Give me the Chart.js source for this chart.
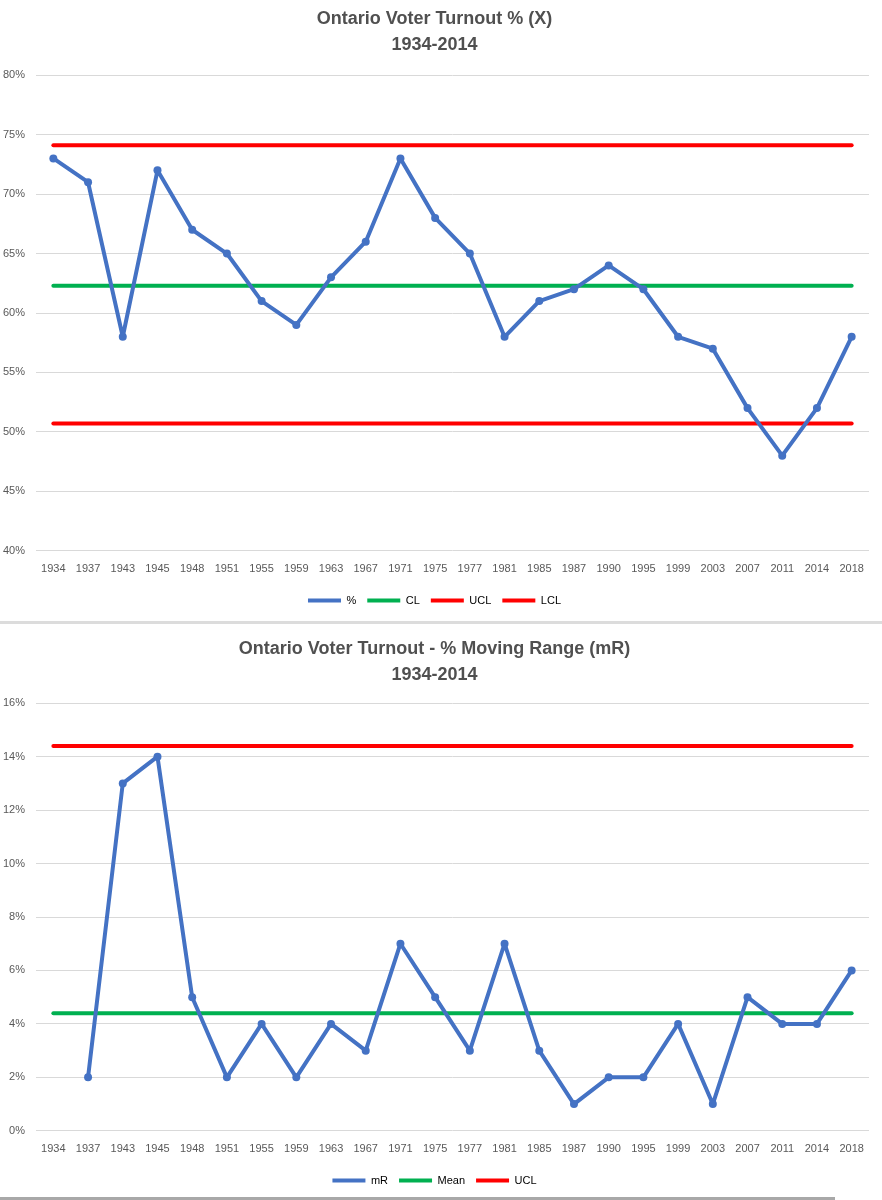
<!DOCTYPE html>
<html>
<head>
<meta charset="utf-8">
<script src="https://cdn.jsdelivr.net/npm/chart.js@4.4.1/dist/chart.umd.min.js"></script>
<style>
  body { margin: 0; background: #fff; width: 882px; height: 1200px; position: relative; overflow: hidden; }
  .box { position: absolute; left: 0; width: 882px; }
  #topBox { top: 0; height: 620px; }
  #botBox { top: 630px; height: 570px; }
  .sep1 { position: absolute; left: 0; top: 621px; width: 882px; height: 3px; background: #dcdcdc; }
  .sep2 { position: absolute; left: 0; top: 1197px; width: 835px; height: 3px; background: #a8a8a8; }
</style>
</head>
<body>
<div class="box" id="topBox"><canvas id="turnoutChart"></canvas></div>
<div class="sep1"></div>
<div class="box" id="botBox"><canvas id="rangeChart"></canvas></div>
<div class="sep2"></div>
<script>
const years = ['1934', '1937', '1943', '1945', '1948', '1951', '1955', '1959', '1963', '1967', '1971', '1975',
    '1977', '1981', '1985', '1987', '1990', '1995', '1999', '2003', '2007', '2011', '2014', '2018'];

// turnout %
const turnout = [73, 71, 58, 72, 67, 65, 61, 59, 63, 66, 73, 68, 65, 58, 61, 62, 64, 62, 58, 57, 52, 48, 52, 58];
const turnoutCL = [62.3, 62.3, 62.3, 62.3, 62.3, 62.3, 62.3, 62.3, 62.3, 62.3, 62.3, 62.3,
    62.3, 62.3, 62.3, 62.3, 62.3, 62.3, 62.3, 62.3, 62.3, 62.3, 62.3, 62.3];
const turnoutUCL = [74.1, 74.1, 74.1, 74.1, 74.1, 74.1, 74.1, 74.1, 74.1, 74.1, 74.1, 74.1,
    74.1, 74.1, 74.1, 74.1, 74.1, 74.1, 74.1, 74.1, 74.1, 74.1, 74.1, 74.1];
const turnoutLCL = [50.7, 50.7, 50.7, 50.7, 50.7, 50.7, 50.7, 50.7, 50.7, 50.7, 50.7, 50.7,
    50.7, 50.7, 50.7, 50.7, 50.7, 50.7, 50.7, 50.7, 50.7, 50.7, 50.7, 50.7];

// moving range %
const movingRange = [null, 2, 13, 14, 5, 2, 4, 2, 4, 3, 7, 5, 3, 7, 3, 1, 2, 2, 4, 1, 5, 4, 4, 6];
const rangeMean = [4.4, 4.4, 4.4, 4.4, 4.4, 4.4, 4.4, 4.4, 4.4, 4.4, 4.4, 4.4,
    4.4, 4.4, 4.4, 4.4, 4.4, 4.4, 4.4, 4.4, 4.4, 4.4, 4.4, 4.4];
const rangeUCL = [14.4, 14.4, 14.4, 14.4, 14.4, 14.4, 14.4, 14.4, 14.4, 14.4, 14.4, 14.4,
    14.4, 14.4, 14.4, 14.4, 14.4, 14.4, 14.4, 14.4, 14.4, 14.4, 14.4, 14.4];

const BLUE = '#4472C4';
const GREEN = '#00B050';
const RED = '#FF0000';
const TEXT = '#595959';
const FONT = "'Liberation Sans', Arial, sans-serif";

Chart.defaults.font.family = FONT;
Chart.defaults.color = TEXT;
Chart.defaults.animation = false;

function seriesLine(label, data, color) {
    return {
        label: label,
        data: data,
        borderColor: color,
        backgroundColor: color,
        borderWidth: 4,
        pointRadius: 0,
        borderCapStyle: 'round',
    };
}

function seriesMain(label, data) {
    return {
        label: label,
        data: data,
        borderColor: BLUE,
        backgroundColor: BLUE,
        borderWidth: 4,
        pointRadius: 4,
        pointBackgroundColor: BLUE,
        pointBorderWidth: 0,
        borderJoinStyle: 'round',
        spanGaps: false,
    };
}

function makeOptions(titleLines, yMin, yMax, yStep, titlePad) {
    return {
        responsive: true,
        maintainAspectRatio: false,
        layout: { padding: { left: 0, right: 13, top: 0, bottom: 4 } },
        plugins: {
            title: {
                display: true,
                text: titleLines,
                color: '#505050',
                font: { size: 18, weight: 'bold', lineHeight: 1.45 },
                padding: { top: 6, bottom: titlePad },
            },
            legend: {
                position: 'bottom',
                labels: {
                    color: TEXT,
                    font: { size: 11 },
                    usePointStyle: true,
                    pointStyleWidth: 33,
                    boxHeight: 8,
                    padding: 11,
                    generateLabels: function (chart) {
                        return chart.data.datasets.map(function (ds, i) {
                            return {
                                text: ds.label,
                                fillStyle: ds.borderColor,
                                strokeStyle: ds.borderColor,
                                lineWidth: 4,
                                pointStyle: 'line',
                                datasetIndex: i,
                                hidden: false,
                            };
                        });
                    },
                },
            },
            tooltip: { enabled: false },
        },
        scales: {
            x: {
                offset: true,
                afterFit: function (scale) { scale.height += 4; },
                grid: { display: false },
                border: { display: false },
                ticks: { color: TEXT, font: { size: 11 }, maxRotation: 0, autoSkip: false, padding: 4 },
            },
            y: {
                min: yMin,
                max: yMax,
                afterFit: function (scale) { scale.width = 36; },
                grid: { color: '#d9d9d9', lineWidth: 1, drawTicks: false },
                border: { display: false },
                ticks: {
                    stepSize: yStep,
                    color: TEXT,
                    font: { size: 11 },
                    padding: 11,
                    callback: function (v) { return v + '%'; },
                },
            },
        },
    };
}

new Chart(document.getElementById('turnoutChart'), {
    type: 'line',
    data: {
        labels: years,
        datasets: [
            seriesMain('%', turnout),
            seriesLine('CL', turnoutCL, GREEN),
            seriesLine('UCL', turnoutUCL, RED),
            seriesLine('LCL', turnoutLCL, RED),
        ],
    },
    options: makeOptions(['Ontario Voter Turnout % (X)', '1934-2014'], 40, 80, 5, 17),
});

new Chart(document.getElementById('rangeChart'), {
    type: 'line',
    data: {
        labels: years,
        datasets: [
            seriesMain('mR', movingRange),
            seriesLine('Mean', rangeMean, GREEN),
            seriesLine('UCL', rangeUCL, RED),
        ],
    },
    options: makeOptions(['Ontario Voter Turnout - % Moving Range (mR)', '1934-2014'], 0, 16, 2, 15),
});
</script>
</body>
</html>
